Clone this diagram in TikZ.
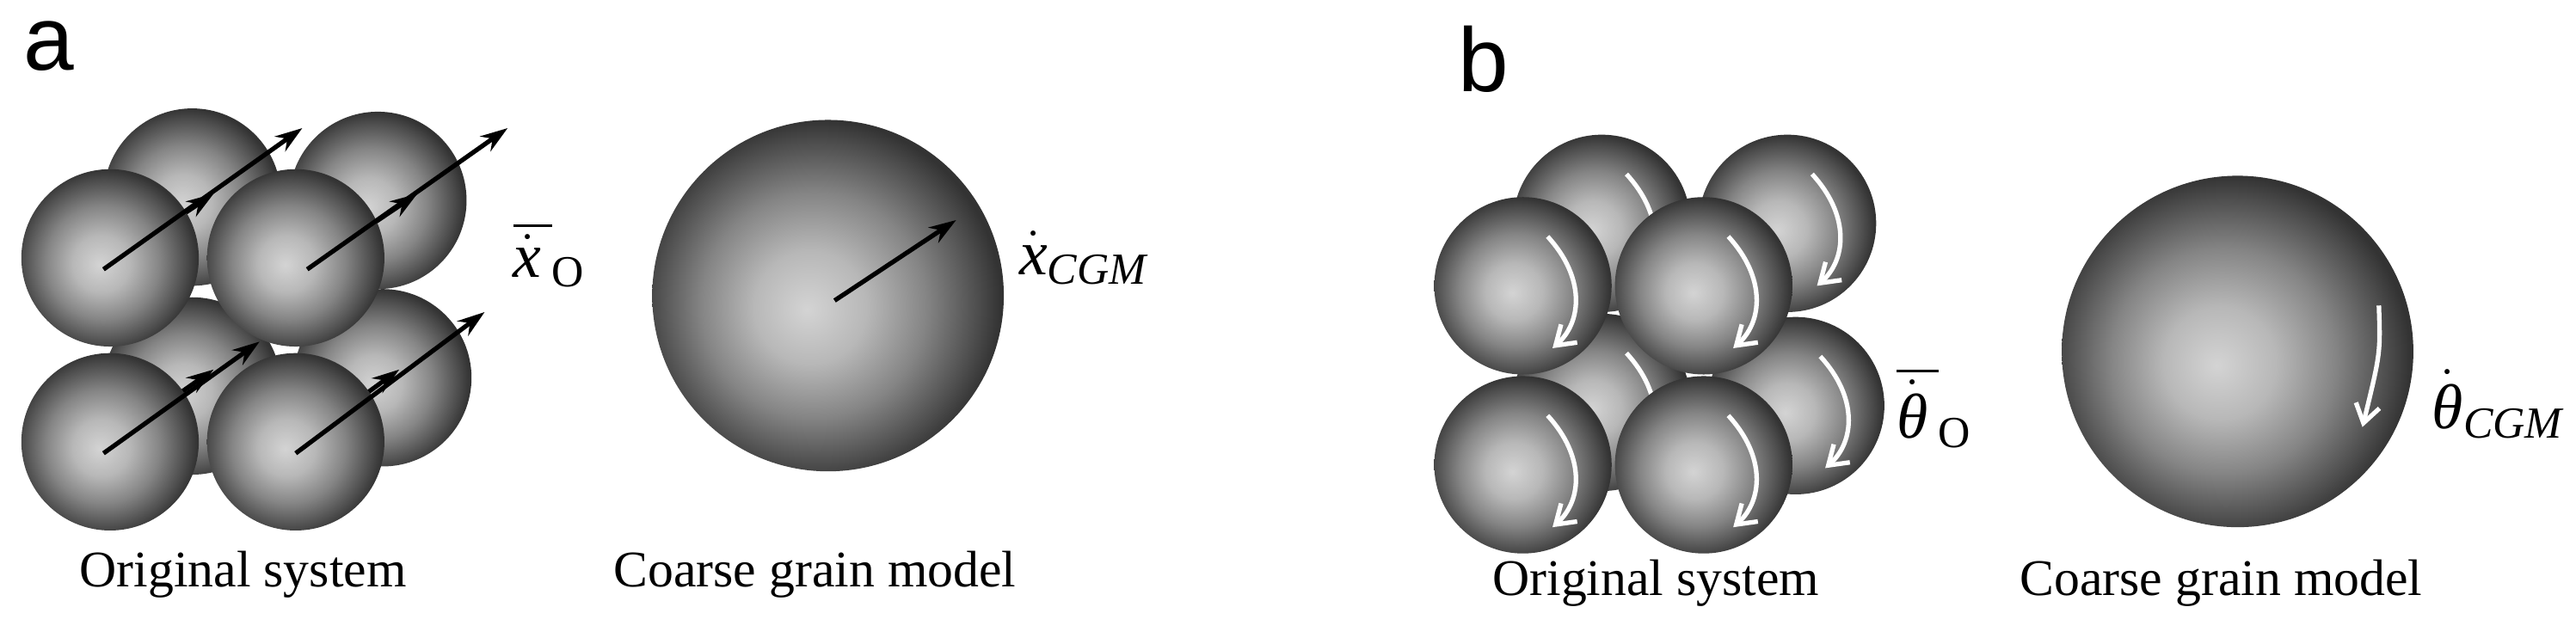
\documentclass[tikz,border=0pt]{standalone}
\usepackage{amsmath}
\usepackage{fontspec}
\setmainfont{Liberation Serif}
\newfontfamily\labfont{Liberation Sans}
\usetikzlibrary{arrows.meta}
\pgfdeclareradialshading{sph}{\pgfpoint{-3bp}{-2bp}}{color(0bp)=(black!17); color(8bp)=(black!28); color(16bp)=(black!48); color(23bp)=(black!70); color(26bp)=(black!80); color(50bp)=(black!80)}
\tikzset{
  ball/.style={shading=sph},
  varrow/.style={-{Stealth[length=9pt,width=6pt]}, line width=1.5pt, black},
  warrow/.style={-{Straight Barb[length=6pt,width=8pt]}, line width=1.5pt, white},
  captext/.style={font=\fontsize{17}{20}\selectfont, anchor=center},
  panel/.style={font=\labfont\fontsize{30}{34}\selectfont},
  sym/.style={font=\fontsize{21}{23}\selectfont, anchor=west}
}
\newcommand{\sphere}[3]{\shade[ball] (#1,#2) circle (#3);}
\newcommand{\rot}[2]{\draw[warrow] (#1+15,#2-30) .. controls (#1+38,#2-5) and (#1+36,#2+22) .. (#1+18,#2+38);}
\begin{document}
\begin{tikzpicture}[x=0.0191cm,y=-0.0191cm]
\useasboundingbox (0,0) rectangle (1568,392);
% ---------- panel a ----------
\node[panel] (la) at (30,28) {a};
\sphere{117}{235}{54}
\sphere{233}{230}{54}
\sphere{117}{120}{54}
\sphere{230}{122}{54}
\draw[varrow] (75,155) -- (130,118);
\draw[varrow] (199,155) -- (254,118);
\sphere{67}{157}{54}
\sphere{180}{157}{54}
\draw[varrow] (80,260) -- (130,225);
\draw[varrow] (195,260) -- (243,225);
\sphere{67}{269}{54}
\sphere{180}{269}{54}
\coordinate (a1s) at (63,164); \coordinate (a1e) at (184,78);
\coordinate (a2s) at (187,164); \coordinate (a2e) at (309,78);
\coordinate (a3s) at (63,276); \coordinate (a3e) at (158,208);
\coordinate (a4s) at (180,276); \coordinate (a4e) at (295,190);
\draw[varrow] (a1s) -- (a1e);
\draw[varrow] (a2s) -- (a2e);
\draw[varrow] (a3s) -- (a3e);
\draw[varrow] (a4s) -- (a4e);
\node[sym] (xo) at (306,155) {$\overline{\dot{\textit{x}}\,}_{\textrm{O}}$};
\shade[ball] (504,180) circle (107);
\coordinate (cga) at (508,183); \coordinate (cgae) at (582,134);
\draw[varrow] (cga) -- (cgae);
\node[sym] (xcgm) at (614,157) {$\dot{\textit{x}}_{\textit{CGM}}$};
\node[captext] (osa) at (148,350) {Original system};
\node[captext] (cga2) at (496,350) {Coarse grain model};
% ---------- panel b ----------
\node[panel] (lb) at (903,36) {b};
\sphere{975}{245}{54}
\sphere{1093}{247}{54}
\rot{975}{245}\rot{1093}{247}
\sphere{975}{136}{54}
\sphere{1088}{136}{54}
\rot{975}{136}\rot{1088}{136}
\sphere{927}{174}{54}
\sphere{1037}{174}{54}
\rot{927}{174}\rot{1037}{174}
\sphere{927}{283}{54}
\sphere{1037}{283}{54}
\rot{927}{283}\rot{1037}{283}
\node[sym] (tho) at (1148,248) {$\overline{\dot{\textit{θ}}\,}_{\textrm{O}}$};
\shade[ball] (1362,214) circle (107);
\coordinate (cgb) at (1448,186); \coordinate (cgbe) at (1438,260);
\draw[warrow] (cgb) .. controls (1449,215) .. (cgbe);
\node[sym] (thcgm) at (1474,246) {$\dot{\textit{θ}}_{\textit{CGM}}$};
\node[captext] (osb) at (1008,355) {Original system};
\node[captext] (cgb2) at (1352,355) {Coarse grain model};
\end{tikzpicture}
\end{document}
